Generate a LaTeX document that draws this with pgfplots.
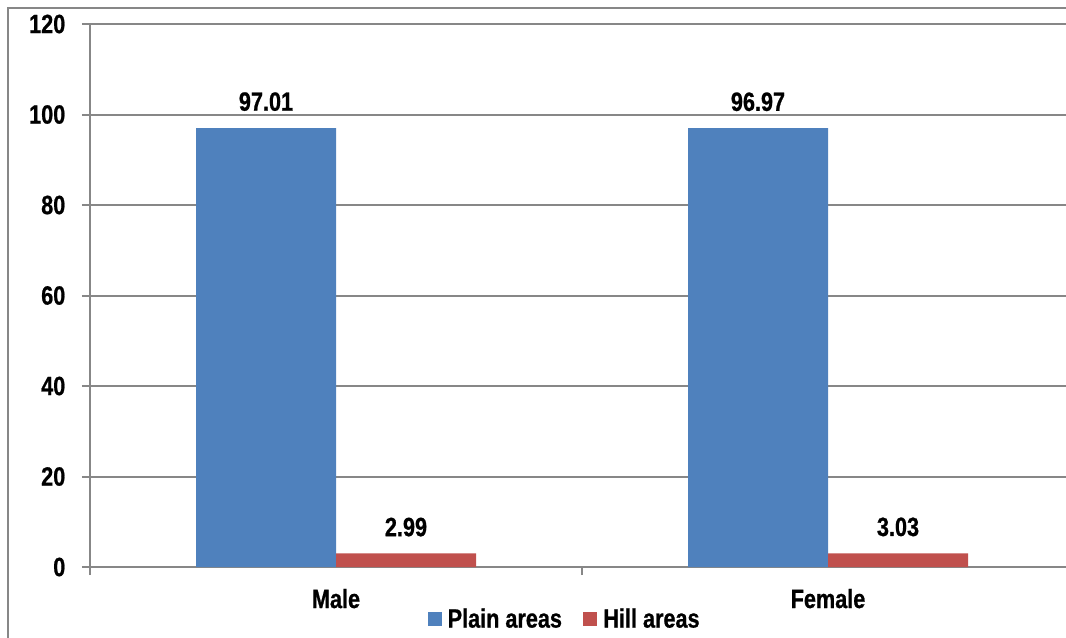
\documentclass[border=0pt]{standalone}
\usepackage{pgfplots}
\pgfplotsset{compat=1.18}
\usepackage{fontspec}
\setmainfont{Liberation Sans}[FakeStretch=0.82, BoldFeatures={FakeBold=0.8}]
\definecolor{plainblue}{HTML}{4F81BD}
\definecolor{hillred}{HTML}{C0504D}
\definecolor{linegray}{HTML}{878787}
\newcommand{\chartfont}{\fontsize{19.8}{21}\selectfont\bfseries}

\begin{document}
\begin{tikzpicture}
% outer chart frame
\draw[linegray, line width=1.5pt] (6pt,-490pt) -- (6pt,-6pt) -- (820pt,-6pt);

\begin{axis}[
  at={(67.5pt,-425.25pt)}, anchor=south west,
  scale only axis,
  width=738pt, height=407.25pt,
  xmin=-0.5, xmax=1.5,
  ymin=0, ymax=120,
  ytick={0,20,...,120},
  xtick={-0.5,0.5,1.5},
  xticklabels={},
  extra x ticks={0,1},
  extra x tick labels={Male,Female},
  extra x tick style={
    major tick length=0pt,
    grid=none,
    xticklabel style={anchor=base, yshift=-30.75pt},
  },
  axis x line*=bottom,
  axis y line*=left,
  axis line style={linegray, line width=1.5pt},
  tick align=outside,
  major tick length=6pt,
  tick style={linegray, line width=1.5pt},
  ymajorgrids,
  major grid style={linegray, line width=1.5pt},
  /pgf/number format/assume math mode=true,
  ticklabel style={font=\chartfont},
  yticklabel style={anchor=east, xshift=-9pt},
  ybar, bar width=105pt,
  nodes near coords,
  nodes near coords style={font=\chartfont, anchor=base, yshift=13pt,
    /pgf/number format/.cd, fixed, fixed zerofill, precision=2},
  legend style={
    at={(0.4827,-0.0958)}, anchor=center,
    draw=none, fill=none,
    legend columns=2,
    font=\chartfont,
    /tikz/every odd column/.append style={column sep=2.5pt},
    /tikz/every even column/.append style={column sep=14pt},
  },
  legend image code/.code={\path[#1, draw=none] (0pt,-5.5pt) rectangle (10.5pt,5.5pt);},
  clip=false,
]
\addplot[fill=plainblue, draw=none, bar shift=-52.5pt] coordinates {(0,97.01) (1,96.97)};
\addplot[fill=hillred, draw=none, bar shift=52.5pt] coordinates {(0,2.99) (1,3.03)};
\legend{Plain areas, Hill areas}
\end{axis}

\pgfresetboundingbox
\path[use as bounding box] (0pt,0pt) rectangle (799.5pt,-477.75pt);
\end{tikzpicture}
\end{document}
